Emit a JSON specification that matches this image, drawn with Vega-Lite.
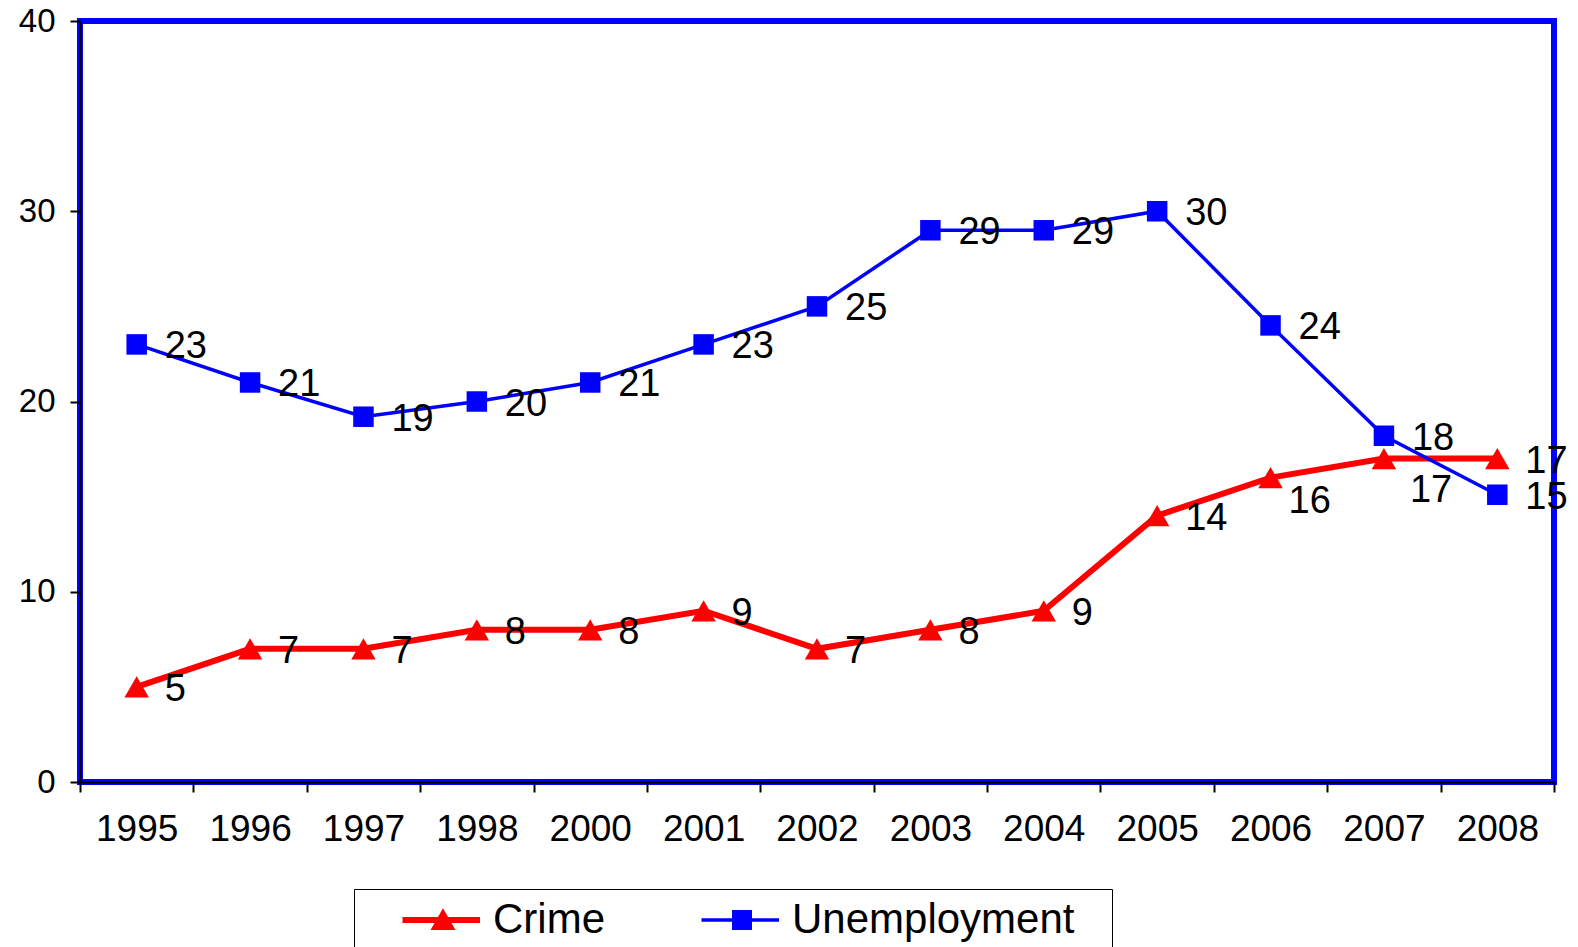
{
  "$schema": "https://vega.github.io/schema/vega-lite/v6.json",
  "autosize": "none",
  "width": 1474,
  "height": 761,
  "padding": {"left": 80, "top": 21, "right": 24, "bottom": 165},
  "background": "white",
  "config": {
    "view": {"stroke": "#0000FF", "strokeWidth": 6},
    "font": "Liberation Sans",
    "axis": {"labelFont": "Liberation Sans", "labelColor": "black", "domainColor": "black", "tickColor": "black", "domainWidth": 2, "tickWidth": 2, "grid": false, "title": null}
  },
  "data": {
    "values": [
      {"year": "1995", "series": "Crime", "value": 5},
      {"year": "1996", "series": "Crime", "value": 7},
      {"year": "1997", "series": "Crime", "value": 7},
      {"year": "1998", "series": "Crime", "value": 8},
      {"year": "2000", "series": "Crime", "value": 8},
      {"year": "2001", "series": "Crime", "value": 9},
      {"year": "2002", "series": "Crime", "value": 7},
      {"year": "2003", "series": "Crime", "value": 8},
      {"year": "2004", "series": "Crime", "value": 9},
      {"year": "2005", "series": "Crime", "value": 14},
      {"year": "2006", "series": "Crime", "value": 16},
      {"year": "2007", "series": "Crime", "value": 17},
      {"year": "2008", "series": "Crime", "value": 17},
      {"year": "1995", "series": "Unemployment", "value": 23},
      {"year": "1996", "series": "Unemployment", "value": 21},
      {"year": "1997", "series": "Unemployment", "value": 19.2},
      {"year": "1998", "series": "Unemployment", "value": 20},
      {"year": "2000", "series": "Unemployment", "value": 21},
      {"year": "2001", "series": "Unemployment", "value": 23},
      {"year": "2002", "series": "Unemployment", "value": 25},
      {"year": "2003", "series": "Unemployment", "value": 29},
      {"year": "2004", "series": "Unemployment", "value": 29},
      {"year": "2005", "series": "Unemployment", "value": 30},
      {"year": "2006", "series": "Unemployment", "value": 24},
      {"year": "2007", "series": "Unemployment", "value": 18.2},
      {"year": "2008", "series": "Unemployment", "value": 15.1}
    ]
  },
  "encoding": {
    "x": {
      "field": "year", "type": "ordinal",
      "scale": {"type": "band", "paddingInner": 0, "paddingOuter": 0},
      "axis": {"tickBand": "extent", "tickSize": 10, "labelFontSize": 37, "labelPadding": 19, "labelAngle": 0}
    },
    "y": {
      "field": "value", "type": "quantitative",
      "scale": {"domain": [0, 40], "nice": false, "zero": true},
      "axis": {"values": [0, 10, 20, 30, 40], "tickSize": 10, "labelFontSize": 33, "labelPadding": 15}
    }
  },
  "layer": [
    {
      "transform": [{"filter": "datum.series === 'Crime'"}],
      "mark": {"type": "line", "color": "#FF0000", "strokeWidth": 6},
      "encoding": {}
    },
    {
      "transform": [{"filter": "datum.series === 'Unemployment'"}],
      "mark": {"type": "line", "color": "#0000FF", "strokeWidth": 3.5},
      "encoding": {}
    },
    {
      "transform": [{"filter": "datum.series === 'Crime'"}],
      "mark": {"type": "point", "shape": "triangle-up", "filled": true, "opacity": 1, "color": "#FF0000", "size": 600},
      "encoding": {}
    },
    {
      "transform": [{"filter": "datum.series === 'Unemployment'"}],
      "mark": {"type": "point", "shape": "square", "filled": true, "opacity": 1, "color": "#0000FF", "size": 420},
      "encoding": {}
    },
    {
      "transform": [{"filter": "!(datum.series === 'Crime' && (datum.year === '2007' || datum.year === '2006'))"}],
      "mark": {"type": "text", "align": "left", "baseline": "middle", "dx": 28, "dy": 3, "fontSize": 38, "font": "Liberation Sans", "color": "black"},
      "encoding": {"text": {"field": "value", "type": "quantitative", "format": ".0f"}}
    },
    {
      "transform": [{"filter": "datum.series === 'Crime' && datum.year === '2007'"}],
      "mark": {"type": "text", "align": "left", "baseline": "middle", "dx": 26, "dy": 32, "fontSize": 38, "font": "Liberation Sans", "color": "black"},
      "encoding": {"text": {"field": "value", "type": "quantitative", "format": ".0f"}}
    },
    {
      "transform": [{"filter": "datum.series === 'Crime' && datum.year === '2006'"}],
      "mark": {"type": "text", "align": "left", "baseline": "middle", "dx": 18, "dy": 24, "fontSize": 38, "font": "Liberation Sans", "color": "black"},
      "encoding": {"text": {"field": "value", "type": "quantitative", "format": ".0f"}}
    },
    {
      "transform": [{"filter": "false"}],
      "mark": {"type": "point", "filled": true, "opacity": 1},
      "encoding": {
        "color": {
          "field": "series", "type": "nominal",
          "scale": {"domain": ["Crime", "Unemployment"], "range": ["#FF0000", "#0000FF"]},
          "legend": {
            "orient": "none", "legendX": 274, "legendY": 868,
            "direction": "horizontal", "title": null,
            "strokeColor": "black", "padding": 10,
            "labelFont": "Liberation Sans", "labelFontSize": 42, "labelColor": "black", "labelLimit": 0,
            "labelOffset": 87, "columnPadding": 58,
            "symbolSize": 1296, "symbolStrokeWidth": 0, "symbolOpacity": 1
          }
        },
        "shape": {
          "field": "series", "type": "nominal",
          "scale": {"domain": ["Crime", "Unemployment"], "range": [
            "M0.972,-0.167L5.278,-0.167L5.278,0.167L0.972,0.167Z M3.222,-0.65L3.917,0.56L2.528,0.56Z M0.972,3L0.972,3Z",
            "M0.972,-0.097L5.278,-0.097L5.278,0.097L0.972,0.097Z M2.667,-0.556L3.778,-0.556L3.778,0.556L2.667,0.556Z M23.2,3L23.2,3Z"
          ]},
          "legend": {
            "orient": "none", "legendX": 274, "legendY": 868,
            "direction": "horizontal", "title": null,
            "strokeColor": "black", "padding": 10,
            "labelFont": "Liberation Sans", "labelFontSize": 42, "labelColor": "black", "labelLimit": 0,
            "labelOffset": 87, "columnPadding": 58,
            "symbolSize": 1296, "symbolStrokeWidth": 0, "symbolOpacity": 1
          }
        }
      }
    }
  ]
}
